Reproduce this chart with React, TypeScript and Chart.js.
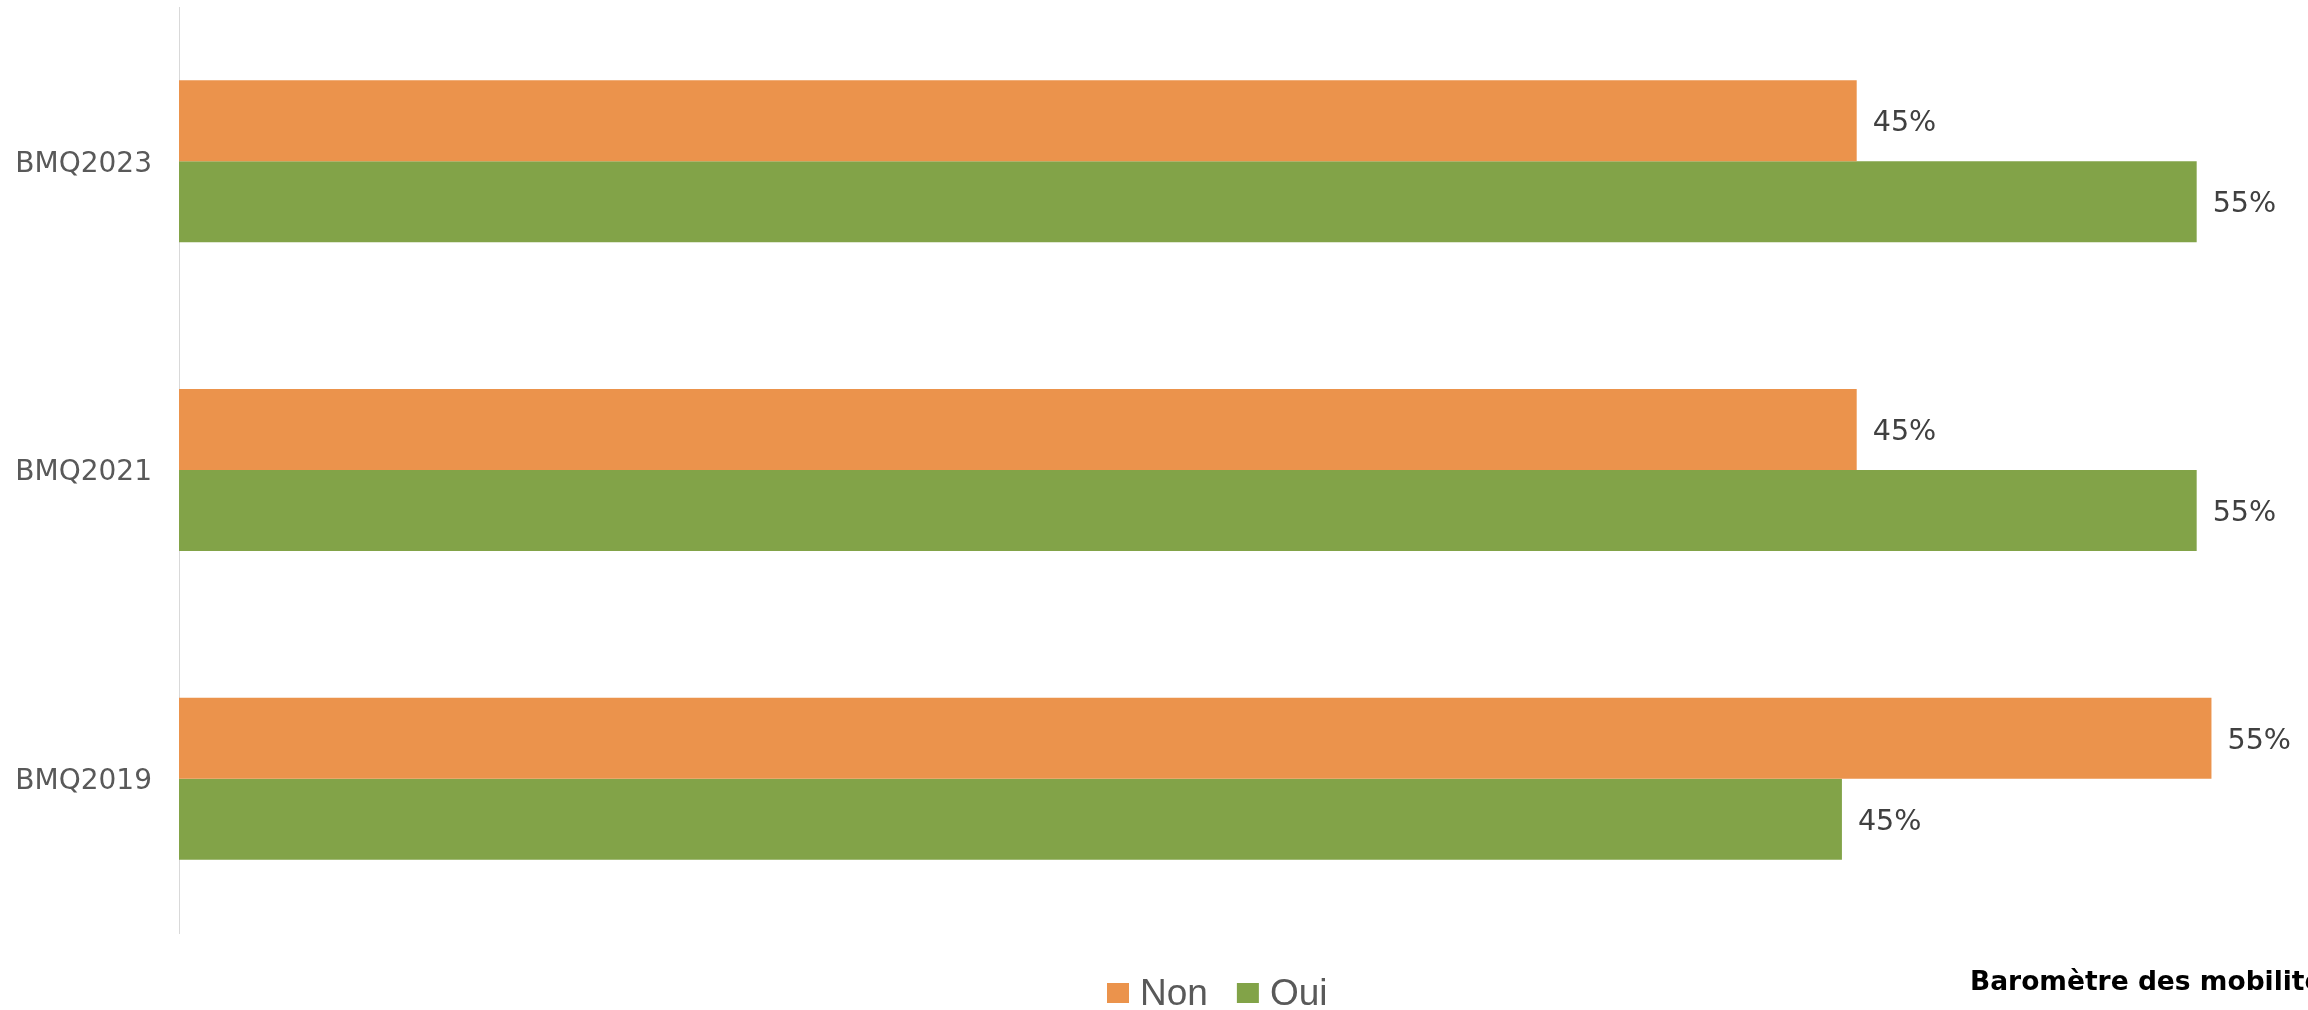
import React, { useEffect, useRef } from 'react';
import { Chart, registerables } from 'chart.js';

Chart.register(...registerables);

const categories = ['BMQ2023', 'BMQ2021', 'BMQ2019'];
const seriesNames = ['Non', 'Oui'];
const nonValues = [45.4, 45.4, 55.0];
const ouiValues = [54.6, 54.6, 45.0];
const seriesColors = ['#EB934C', '#82A348'];
const sourceText = 'Baromètre des mobilités du quotidien';

const W = 2308;
const H = 1010;

export default function App() {
  const ref = useRef<HTMLCanvasElement>(null);

  useEffect(() => {
    const canvas = ref.current;
    if (!canvas) return;

    const valueLabels = {
      id: 'valueLabels',
      afterDatasetsDraw(chart: any) {
        const ctx = chart.ctx;
        ctx.save();
        ctx.font = '28.6px "DejaVu Sans"';
        ctx.fillStyle = '#404040';
        ctx.textAlign = 'left';
        ctx.textBaseline = 'middle';
        chart.data.datasets.forEach((ds: any, di: number) => {
          chart.getDatasetMeta(di).data.forEach((bar: any, i: number) => {
            ctx.fillText(Math.round(ds.data[i]) + '%', bar.x + 16, bar.y + 3);
          });
        });
        ctx.restore();
      },
    };

    const customLegend = {
      id: 'customLegend',
      afterDraw(chart: any) {
        const ctx = chart.ctx;
        ctx.save();
        ctx.font = '37px "Liberation Sans"';
        ctx.textBaseline = 'alphabetic';
        ctx.textAlign = 'left';
        let x = 1107;
        chart.data.datasets.forEach((ds: any) => {
          ctx.fillStyle = ds.backgroundColor;
          ctx.fillRect(x, 983, 22, 20);
          ctx.fillStyle = '#595959';
          ctx.fillText(ds.label, x + 33, 1005);
          x = x + 33 + ctx.measureText(ds.label).width + 29;
        });
        ctx.font = 'bold 26.5px "DejaVu Sans"';
        ctx.fillStyle = '#000000';
        ctx.fillText(sourceText, 1970, 990);
        ctx.restore();
      },
    };

    const chart = new Chart(canvas, {
      type: 'bar',
      data: {
        labels: categories,
        datasets: [
          { label: seriesNames[0], data: nonValues, backgroundColor: seriesColors[0] },
          { label: seriesNames[1], data: ouiValues, backgroundColor: seriesColors[1] },
        ],
      },
      options: {
        indexAxis: 'y',
        responsive: false,
        animation: false,
        devicePixelRatio: 1,
        layout: { padding: { left: 0, top: 7, bottom: 77, right: 6 } },
        datasets: { bar: { categoryPercentage: 0.525, barPercentage: 1 } },
        scales: {
          x: { display: false, min: 0, max: 57.45 },
          y: {
            afterFit(scale: any) {
              scale.width = 179;
              scale.paddingTop = 0;
              scale.paddingBottom = 0;
            },
            grid: { display: true, drawOnChartArea: false, drawTicks: false },
            border: { display: true, color: '#d9d9d9', width: 1 },
            ticks: {
              padding: 27,
              labelOffset: 3,
              color: '#595959',
              font: { family: '"DejaVu Sans"', size: 28 },
            },
          },
        },
        plugins: {
          legend: { display: false },
          tooltip: { enabled: false },
        },
      } as any,
      plugins: [valueLabels, customLegend],
    });

    return () => chart.destroy();
  }, []);

  return (
    <div style={{ position: 'fixed', left: 0, top: 0, width: W, height: H, background: '#ffffff' }}>
      <canvas ref={ref} width={W} height={H} style={{ display: 'block' }} />
    </div>
  );
}
